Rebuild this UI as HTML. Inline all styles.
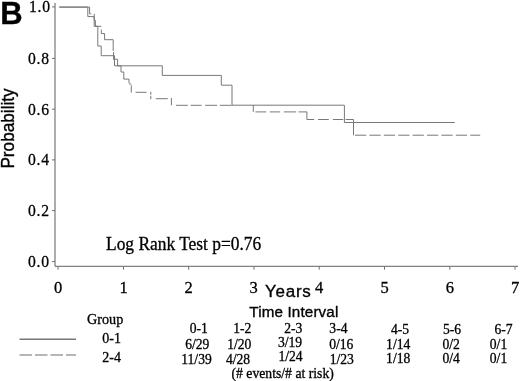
<!DOCTYPE html>
<html>
<head>
<meta charset="utf-8">
<style>
html,body{margin:0;padding:0;background:#fff;}
body{width:520px;height:381px;overflow:hidden;}
svg{display:block;filter:blur(0.35px);}
.serif{font-family:"Liberation Serif",serif;fill:#000;stroke:#000;stroke-width:0.3px;}
.sans{font-family:"Liberation Sans",sans-serif;fill:#000;stroke:#000;stroke-width:0.35px;}
</style>
</head>
<body>
<svg width="520" height="381" viewBox="0 0 520 381">
<text class="sans" font-size="31" font-weight="bold" transform="translate(0.2,23.6) scale(1,1.02)">B</text>
<text class="sans" font-size="17.2" transform="translate(14.4,168.6) rotate(-90) scale(1,1.07)">Probability</text>
<g stroke="#808080" stroke-width="1.3" fill="none">
  <line x1="55" y1="3" x2="55" y2="266.3"/>
  <line x1="55" y1="266.3" x2="518" y2="266.3"/>
</g>
<g stroke="#707070" stroke-width="1" fill="none">
  <line x1="52" y1="6.9" x2="55" y2="6.9"/>
  <line x1="52" y1="58.4" x2="55" y2="58.4"/>
  <line x1="52" y1="109.2" x2="55" y2="109.2"/>
  <line x1="52" y1="159.9" x2="55" y2="159.9"/>
  <line x1="52" y1="210.6" x2="55" y2="210.6"/>
  <line x1="52" y1="261.6" x2="55" y2="261.6"/>
  <line x1="58" y1="266.3" x2="58" y2="269.7"/>
  <line x1="123.5" y1="266.3" x2="123.5" y2="269.7"/>
  <line x1="188.7" y1="266.3" x2="188.7" y2="269.7"/>
  <line x1="254" y1="266.3" x2="254" y2="269.7"/>
  <line x1="319.2" y1="266.3" x2="319.2" y2="269.7"/>
  <line x1="384.5" y1="266.3" x2="384.5" y2="269.7"/>
  <line x1="449.8" y1="266.3" x2="449.8" y2="269.7"/>
  <line x1="515" y1="266.3" x2="515" y2="269.7"/>
</g>
<text class="serif" font-size="17" text-anchor="end" letter-spacing="0.9" transform="translate(51.0,12.3) scale(0.92,1.04)">1.0</text>
<text class="serif" font-size="17" text-anchor="end" letter-spacing="0.9" transform="translate(50.0,63.8) scale(0.92,1.04)">0.8</text>
<text class="serif" font-size="17" text-anchor="end" letter-spacing="0.9" transform="translate(50.0,114.6) scale(0.92,1.04)">0.6</text>
<text class="serif" font-size="17" text-anchor="end" letter-spacing="0.9" transform="translate(50.0,165.3) scale(0.92,1.04)">0.4</text>
<text class="serif" font-size="17" text-anchor="end" letter-spacing="0.9" transform="translate(50.0,216.0) scale(0.92,1.04)">0.2</text>
<text class="serif" font-size="17" text-anchor="end" letter-spacing="0.9" transform="translate(50.0,267.0) scale(0.92,1.04)">0.0</text>
<text class="serif" font-size="16.5" text-anchor="middle" transform="translate(58,292.6) scale(1,1.06)">0</text>
<text class="serif" font-size="16.5" text-anchor="middle" transform="translate(123.5,292.6) scale(1,1.06)">1</text>
<text class="serif" font-size="16.5" text-anchor="middle" transform="translate(188.5,292.6) scale(1,1.06)">2</text>
<text class="serif" font-size="16.5" text-anchor="middle" transform="translate(253.5,292.6) scale(1,1.06)">3</text>
<text class="serif" font-size="16.5" text-anchor="middle" transform="translate(319,292.6) scale(1,1.06)">4</text>
<text class="serif" font-size="16.5" text-anchor="middle" transform="translate(384.5,292.6) scale(1,1.06)">5</text>
<text class="serif" font-size="16.5" text-anchor="middle" transform="translate(449.8,292.6) scale(1,1.06)">6</text>
<text class="serif" font-size="16.5" text-anchor="middle" transform="translate(515,292.6) scale(1,1.06)">7</text>
<text class="sans" font-size="17" letter-spacing="0.75" transform="translate(265,297.1) scale(1,1.01)">Years</text>
<g fill="none" stroke="#787878" stroke-width="1">
  <polyline points="59.3,7.1 87.8,7.1 87.8,16.6 94.2,16.6 94.2,20.4 95.4,20.4 95.4,26.3 97.8,26.3 97.8,46 101.2,46 101.2,55.7 114.5,55.7 114.5,65.8 162.3,65.8 162.3,75.4 221.3,75.4 221.3,85.2 232,85.2 232,105.2 344.4,105.2 344.4,122.5 454.8,122.5"/>
  <path d="M59.3,7.1H89.6 M89.6,13.8H91.2 M94.2,26.3H101.3 M101.3,33.6H104.6 M104.6,39.7H113.2 M113.2,59.2H117.6 M117.6,65.9H121.0 M121.0,72.0H123.8 M123.8,79.1H129.0 M129.0,84.0H131.3 M135.6,92.3H146.6 M155.8,98.7H167.8 M176.0,105.3H187.9 M190.6,105.3H201.6 M205.2,105.3H217.1 M219.8,105.3H231.7 M255.4,111.9H266.3 M269.8,111.9H280.2 M283.8,111.9H296.2 M298.5,111.9H306.9 M306.9,119.5H314.2 M318.0,119.5H328.8 M332.9,119.5H343.3 M345.6,119.5H353.5 M355.0,135.2H366.3 M369.4,135.2H380.7 M383.8,135.2H395.1 M398.2,135.2H409.5 M412.6,135.2H423.9 M427.0,135.2H438.3 M441.4,135.2H452.7 M455.8,135.2H467.1 M470.2,135.2H480.2 M89.6,7.1V13.8 M94.2,13.8V26.3 M101.3,29.5V33.6 M104.6,33.6V39.7 M113.2,39.7V51.0 M113.6,52.0V59.2 M117.6,59.2V65.9 M121.0,65.9V72.0 M123.8,72.0V79.1 M129.0,79.1V83.2 M131.3,85.3V92.6 M150.8,91.7V94.8 M150.8,95.8V99.2 M171.4,98.0V105.3 M253.3,105.3V111.9 M306.9,111.9V119.5 M353.5,119.5V135.2"/>
</g>
<text class="serif" font-size="17.4" transform="translate(106,249.6) scale(1,1.04)">Log Rank Test p=0.76</text>
<text class="serif" font-size="14.2" transform="translate(87,323.5) scale(1,1.06)">Group</text>
<line x1="19.5" y1="339.3" x2="76" y2="339.3" stroke="#777" stroke-width="1.4"/>
<line x1="19.5" y1="355" x2="76" y2="355" stroke="#6e6e6e" stroke-width="1.2" stroke-dasharray="12.5 3"/>
<text class="serif" font-size="14" transform="translate(102.3,343.2) scale(1,1.06)">0-1</text>
<text class="serif" font-size="14" transform="translate(102.3,361.7) scale(1,1.06)">2-4</text>
<text class="sans" font-size="15.2" letter-spacing="0.15" transform="translate(249.3,317.1) scale(1,1.0)">Time Interval</text>
<text class="serif" font-size="13.6" text-anchor="middle" transform="translate(198.8,333.3) scale(1,1.0)">0-1</text>
<text class="serif" font-size="13.6" text-anchor="middle" transform="translate(242.3,333.3) scale(1,1.0)">1-2</text>
<text class="serif" font-size="13.6" text-anchor="middle" transform="translate(293.3,333.3) scale(1,1.0)">2-3</text>
<text class="serif" font-size="13.6" text-anchor="middle" transform="translate(338.4,333.3) scale(1,1.0)">3-4</text>
<text class="serif" font-size="13.6" text-anchor="middle" transform="translate(400,333.6) scale(1,1.0)">4-5</text>
<text class="serif" font-size="13.6" text-anchor="middle" transform="translate(452,333.6) scale(1,1.0)">5-6</text>
<text class="serif" font-size="13.6" text-anchor="middle" transform="translate(503.5,333.6) scale(1,1.0)">6-7</text>
<text class="serif" font-size="13.6" text-anchor="middle" transform="translate(197.3,348.5) scale(1,1.0)">6/29</text>
<text class="serif" font-size="13.6" text-anchor="middle" transform="translate(239.3,348.5) scale(1,1.0)">1/20</text>
<text class="serif" font-size="13.6" text-anchor="middle" transform="translate(290,347.2) scale(1,1.0)">3/19</text>
<text class="serif" font-size="13.6" text-anchor="middle" transform="translate(341.3,349.0) scale(1,1.0)">0/16</text>
<text class="serif" font-size="13.6" text-anchor="middle" transform="translate(398.2,348.6) scale(1,1.0)">1/14</text>
<text class="serif" font-size="13.6" text-anchor="middle" transform="translate(451.2,348.6) scale(1,1.0)">0/2</text>
<text class="serif" font-size="13.6" text-anchor="middle" transform="translate(498.5,348.6) scale(1,1.0)">0/1</text>
<text class="serif" font-size="13.6" text-anchor="middle" transform="translate(196.5,363.5) scale(1,1.0)">11/39</text>
<text class="serif" font-size="13.6" text-anchor="middle" transform="translate(238,363.5) scale(1,1.0)">4/28</text>
<text class="serif" font-size="13.6" text-anchor="middle" transform="translate(290.5,360.5) scale(1,1.0)">1/24</text>
<text class="serif" font-size="13.6" text-anchor="middle" transform="translate(341.8,364.0) scale(1,1.0)">1/23</text>
<text class="serif" font-size="13.6" text-anchor="middle" transform="translate(398.2,363.4) scale(1,1.0)">1/18</text>
<text class="serif" font-size="13.6" text-anchor="middle" transform="translate(451.2,363.4) scale(1,1.0)">0/4</text>
<text class="serif" font-size="13.6" text-anchor="middle" transform="translate(498.5,363.4) scale(1,1.0)">0/1</text>
<text class="serif" font-size="13.7" transform="translate(231.5,377.6) scale(1,1.06)">(# events/# at risk)</text>
</svg>
</body>
</html>
